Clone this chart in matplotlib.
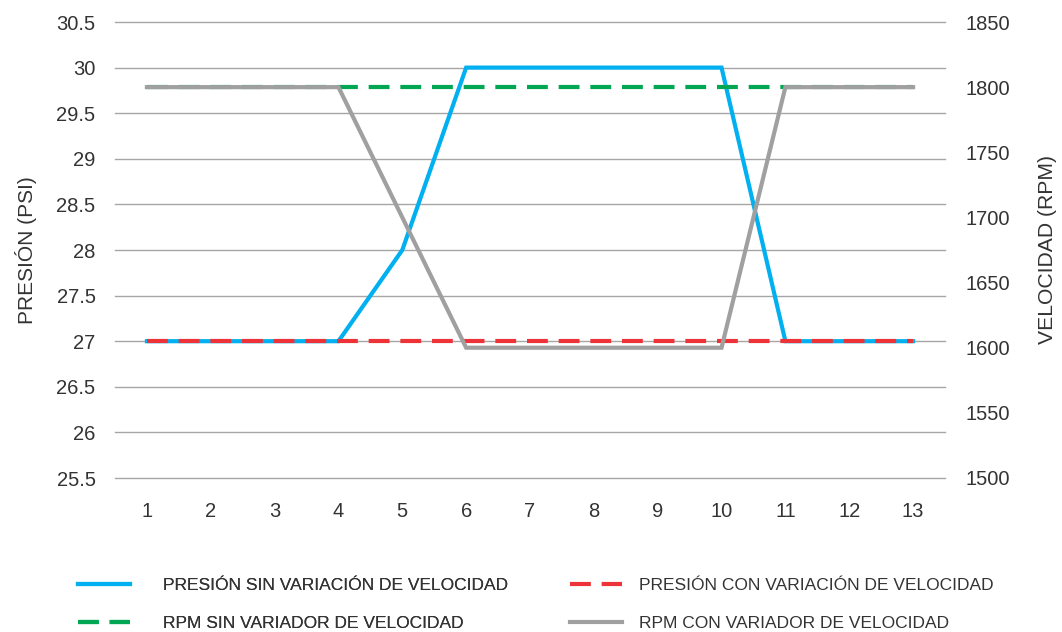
import matplotlib
matplotlib.use("Agg")
import matplotlib.pyplot as plt

plt.rcParams['font.family'] = ['Liberation Sans', 'DejaVu Sans']

categories = [1, 2, 3, 4, 5, 6, 7, 8, 9, 10, 11, 12, 13]
presion_sin = [27, 27, 27, 27, 28, 30, 30, 30, 30, 30, 27, 27, 27]
presion_con = [27, 27, 27, 27, 27, 27, 27, 27, 27, 27, 27, 27, 27]
rpm_sin = [1800] * 13
rpm_con = [1800, 1800, 1800, 1800, 1700, 1600, 1600, 1600, 1600, 1600, 1800, 1800, 1800]
left_ticks = [25.5, 26, 26.5, 27, 27.5, 28, 28.5, 29, 29.5, 30, 30.5]
left_tick_labels = ["25.5", "26", "26.5", "27", "27.5", "28", "28.5", "29", "29.5", "30", "30.5"]
right_ticks = [1500, 1550, 1600, 1650, 1700, 1750, 1800, 1850]

labels = ["PRESIÓN SIN VARIACIÓN DE VELOCIDAD", "PRESIÓN CON VARIACIÓN DE VELOCIDAD",
          "RPM SIN VARIADOR DE VELOCIDAD", "RPM CON VARIADOR DE VELOCIDAD"]

c_blue = "#00B0F0"
c_red = "#EE3338"
c_green = "#00A651"
c_gray = "#A0A0A0"
lw = 3.0
dash = (5, 2.6)

fig = plt.figure(figsize=(10.62, 6.32), dpi=100)
ax = fig.add_axes([115 / 1062, 1 - 478 / 632, (945 - 115) / 1062, (478 - 22) / 632])
ax2 = ax.twinx()

ax.set_xlim(0.5, 13.5)
ax.set_ylim(25.5, 30.5)
ax2.set_ylim(1500, 1850)

ax.set_yticks(left_ticks)
ax.set_yticklabels(left_tick_labels)
ax2.set_yticks(right_ticks)
ax.set_xticks(categories)
ax.set_xticklabels([str(c) for c in categories])

ax.grid(axis='y', color='#A6A6A6', linewidth=1.0)
for gl in ax.yaxis.get_gridlines():
    gl.set_clip_on(False)
ax.set_axisbelow(True)
for a in (ax, ax2):
    for s in a.spines.values():
        s.set_visible(False)
    a.tick_params(length=0, labelsize=14.5, labelcolor='#333333')
ax.tick_params(axis='y', pad=14)
ax.tick_params(axis='x', pad=17)
ax2.tick_params(axis='y', pad=15)

l1, = ax.plot(categories, presion_sin, color=c_blue, lw=lw, solid_joinstyle='miter', zorder=3)
l2, = ax.plot(categories, presion_con, color=c_red, lw=lw, dashes=dash, zorder=4)
l3, = ax2.plot(categories, rpm_sin, color=c_green, lw=lw, dashes=dash, zorder=3)
l4, = ax2.plot(categories, rpm_con, color=c_gray, lw=lw, solid_joinstyle='miter', zorder=4)

ax.set_ylabel("PRESIÓN (PSI)", fontsize=15, color='#333333', labelpad=14)
ax2.set_ylabel("VELOCIDAD (RPM)", fontsize=15.2, color='#333333', labelpad=20)

leg1 = fig.legend([l1, l3], [labels[0], labels[2]], loc='upper left',
                  bbox_to_anchor=(62 / 1062, 1 - 562 / 632), frameon=False,
                  fontsize=12.5, handlelength=3.0, handletextpad=1.9,
                  labelspacing=1.35, labelcolor='#333333')
leg2 = fig.legend([l2, l4], [labels[1], labels[3]], loc='upper left',
                  bbox_to_anchor=(554 / 1062, 1 - 562 / 632), frameon=False,
                  fontsize=12.5, handlelength=3.0, handletextpad=1.0,
                  labelspacing=1.35, labelcolor='#333333')
fig.add_artist(leg1)

fig.savefig("out.png", dpi=100)
